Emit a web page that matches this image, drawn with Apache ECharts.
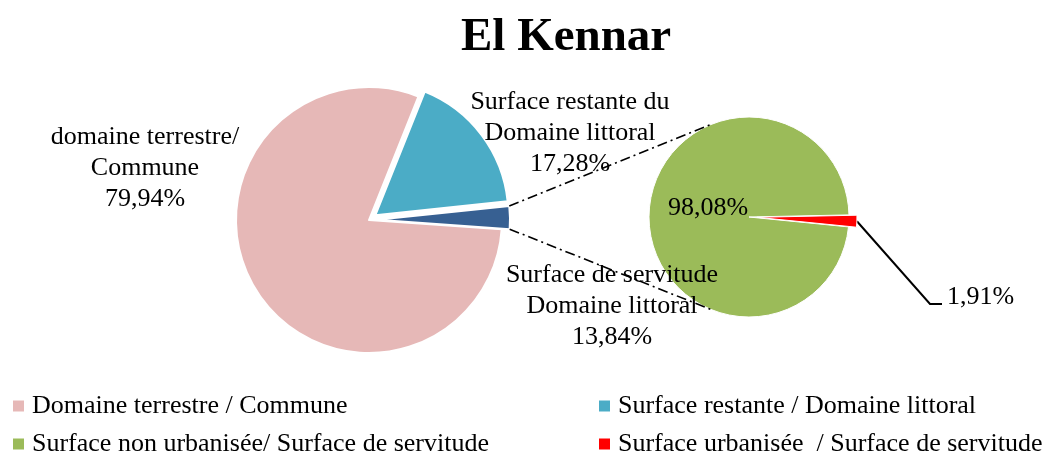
<!DOCTYPE html>
<html>
<head>
<meta charset="utf-8">
<script src="https://cdn.jsdelivr.net/npm/echarts@6/dist/echarts.min.js"></script>
<style>
  html, body { margin: 0; padding: 0; background: #fff; }
  #chart { width: 1051px; height: 454px; }
</style>
</head>
<body>
<div id="chart"></div>
<script type="text/javascript">
  // données du graphique
  var mainNames = ['Surface restante / Domaine littoral', 'Surface de servitude / Domaine littoral', 'Domaine terrestre / Commune'];
  var mainValues = [17.28, 2.78, 79.94];
  var mainLabels = ['Surface restante du\nDomaine littoral\n17,28%', 'Surface de servitude\nDomaine littoral\n13,84%', 'domaine terrestre/\nCommune\n79,94%'];
  var subNames = ['Surface urbanisée  / Surface de servitude', 'Surface non urbanisée/ Surface de servitude'];
  var subValues = [1.91, 98.08];
  var subLabels = ['1,91%', '98,08%'];

  var mainColors = ['#4BACC6', '#376092', '#E6B8B7'];
  var subColors = ['#FF0000', '#9BBB59'];
  var mainExploded = [true, true, false];
  var subExploded = [true, false];

  var FONT = 'Liberation Serif';
  var mainCenter = [369, 220], mainR = 133, mainStart = 68.2;
  var subCenter = [749, 217], subR = 100, subStart = 1.2;
  var offset = 8;

  // positions des étiquettes (centre du texte)
  var mainLabelPos = [[570, 133], [612, 306], [145, 168]];
  var subLabelPos = [[942, 304, 'left'], [708, 208, 'center']];

  var myChart = echarts.init(document.getElementById('chart'));

  // angles de début / fin de chaque part (degrés)
  function sliceAngles(values, start) {
    var total = values.reduce(function (a, b) { return a + b; }, 0);
    var a = start, res = [];
    values.forEach(function (v) {
      var b = a - 360 * v / total;
      res.push([a, b]);
      a = b;
    });
    return res;
  }
  var mainAngles = sliceAngles(mainValues, mainStart);
  var subAngles = sliceAngles(subValues, subStart);

  function shiftedCenter(c, ang, exploded) {
    if (!exploded) return c.slice();
    var m = (ang[0] + ang[1]) / 2 * Math.PI / 180;
    return [c[0] + offset * Math.cos(m), c[1] - offset * Math.sin(m)];
  }

  // une série par part, les autres parts transparentes (parts détachées)
  function sliceSeries(names, values, colors, labels, angles, exploded, center, r, start, labelPos, idx, lineShow, border) {
    var c = shiftedCenter(center, angles[idx], exploded[idx]);
    var pos = labelPos[idx];
    return {
      type: 'pie',
      center: c,
      radius: r,
      startAngle: start,
      clockwise: true,
      silent: true,
      emphasis: { disabled: true },
      avoidLabelOverlap: false,
      label: {
        show: true,
        position: 'outside',
        fontFamily: FONT,
        fontSize: 26,
        lineHeight: 31,
        color: '#000',
        formatter: function () {
          return lineShow ? '{t|' + labels[idx] + '}\n{s| }' : labels[idx];
        },
        rich: {
          t: { fontFamily: FONT, fontSize: 26, lineHeight: 26, color: '#000', padding: [0, 0, 0, 5] },
          s: { fontSize: 1, lineHeight: 14 }
        }
      },
      labelLine: { show: lineShow, length: 40, length2: 12, lineStyle: { color: '#000', width: 2 } },
      labelLayout: function () {
        return { x: pos[0], y: pos[1], align: pos[2] || 'center', verticalAlign: 'middle' };
      },
      data: values.map(function (v, i) {
        if (i === idx) {
          return { name: names[i], value: v, itemStyle: { color: colors[i], borderColor: '#fff', borderWidth: border } };
        }
        return { name: '_' + i, value: v, itemStyle: { color: 'rgba(0,0,0,0)', borderWidth: 0 }, label: { show: false }, labelLine: { show: false } };
      })
    };
  }

  var series = [];
  [2, 0, 1].forEach(function (i) {
    series.push(sliceSeries(mainNames, mainValues, mainColors, mainLabels, mainAngles, mainExploded,
      mainCenter, mainR, mainStart, mainLabelPos, i, false, 2));
  });
  [1, 0].forEach(function (i) {
    series.push(sliceSeries(subNames, subValues, subColors, subLabels, subAngles, subExploded,
      subCenter, subR, subStart, subLabelPos, i, i === 0, 1));
  });

  // lignes de liaison : coins de la part "servitude" -> tangentes du 2e camembert
  var dbCenter = shiftedCenter(mainCenter, mainAngles[1], mainExploded[1]);
  function corner(a) {
    a = a * Math.PI / 180;
    return [dbCenter[0] + mainR * Math.cos(a), dbCenter[1] - mainR * Math.sin(a)];
  }
  function tangent(p, upper) {
    var dx = p[0] - subCenter[0], dy = -(p[1] - subCenter[1]);
    var d = Math.sqrt(dx * dx + dy * dy);
    var th = Math.atan2(dy, dx);
    var al = Math.acos(subR / d);
    var t = upper ? th - al : th + al;
    return [subCenter[0] + subR * Math.cos(t), subCenter[1] - subR * Math.sin(t)];
  }
  var pTop = corner(mainAngles[1][0]), pBot = corner(mainAngles[1][1]);
  var tTop = tangent(pTop, true), tBot = tangent(pBot, false);
  var dashStyle = { stroke: '#000', lineWidth: 1.6, lineDash: [10, 4, 2, 4] };

  function legendItem(name, left, top) {
    return {
      data: [name],
      left: left,
      top: top,
      padding: 0,
      icon: 'rect',
      itemWidth: 13,
      itemHeight: 13,
      selectedMode: false,
      textStyle: { fontFamily: FONT, fontSize: 26, lineHeight: 26, color: '#000', padding: [0, 0, 0, 2] }
    };
  }

  var option = {
    animation: false,
    backgroundColor: '#fff',
    title: {
      text: 'El Kennar',
      left: 456,
      top: 9,
      textStyle: { fontFamily: FONT, fontSize: 47, fontWeight: 'bold', color: '#000' }
    },
    legend: [
      legendItem(mainNames[2], 11, 393),
      legendItem(subNames[1], 11, 431),
      legendItem(mainNames[0], 597, 393),
      legendItem(subNames[0], 597, 431)
    ],
    graphic: [
      { type: 'line', z: 100, shape: { x1: pTop[0], y1: pTop[1], x2: tTop[0], y2: tTop[1] }, style: dashStyle },
      { type: 'line', z: 100, shape: { x1: pBot[0], y1: pBot[1], x2: tBot[0], y2: tBot[1] }, style: dashStyle }
    ],
    series: series
  };
  myChart.setOption(option);
</script>
</body>
</html>
